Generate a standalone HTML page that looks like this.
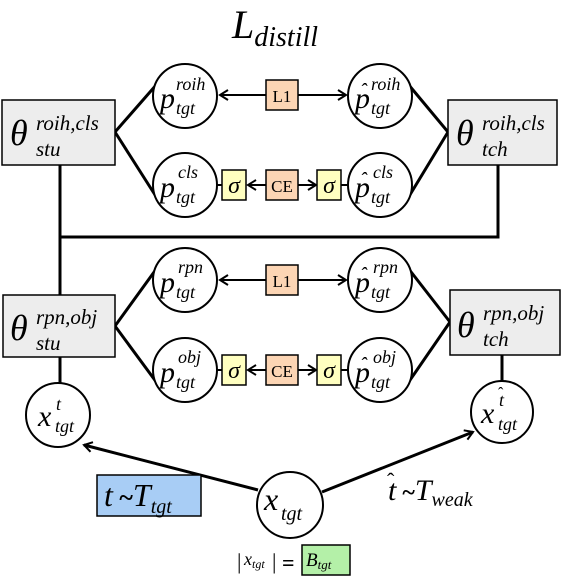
<!DOCTYPE html>
<html><head><meta charset="utf-8"><style>
html,body{margin:0;padding:0;background:#fff;}
svg{display:block;}
text{font-family:"Liberation Serif",serif;font-style:italic;fill:#000;}
.n{font-style:normal;}
</style></head><body>
<svg width="564" height="576" viewBox="0 0 564 576" xmlns="http://www.w3.org/2000/svg">
<defs>
<marker id="ah" markerWidth="12" markerHeight="12" refX="10" refY="6" orient="auto" markerUnits="userSpaceOnUse">
<path d="M2,1 L10,6 L2,11" fill="none" stroke="#000" stroke-width="2"/>
</marker>
</defs>
<g stroke="#000" stroke-width="3" fill="none">
<line x1="115" y1="132" x2="157" y2="84"/>
<line x1="115" y1="132" x2="157" y2="198"/>
<line x1="448" y1="132" x2="408" y2="84"/>
<line x1="448" y1="132" x2="408" y2="198"/>
<polyline points="60,165 60,237 498,237 498,165"/>
<line x1="60" y1="237" x2="60" y2="295"/>
<line x1="115" y1="326" x2="157" y2="268"/>
<line x1="115" y1="326" x2="157" y2="383"/>
<line x1="450" y1="322" x2="408" y2="268"/>
<line x1="450" y1="322" x2="408" y2="383"/>
<line x1="60" y1="357" x2="60" y2="384"/>
<line x1="502" y1="355" x2="502" y2="381"/>
<line x1="258" y1="490" x2="84" y2="445" marker-end="url(#ah)"/>
<line x1="322" y1="492" x2="473" y2="432" marker-end="url(#ah)"/>
</g>
<g stroke="#000" stroke-width="2" fill="none">
<line x1="266" y1="95" x2="220" y2="95" marker-end="url(#ah)"/>
<line x1="298" y1="95" x2="346" y2="95" marker-end="url(#ah)"/>
<line x1="266" y1="185" x2="248" y2="185" marker-end="url(#ah)"/>
<line x1="298" y1="185" x2="316" y2="185" marker-end="url(#ah)"/>
<line x1="216" y1="185" x2="222" y2="185"/>
<line x1="341" y1="185" x2="349" y2="185"/>
<line x1="266" y1="280" x2="220" y2="280" marker-end="url(#ah)"/>
<line x1="298" y1="280" x2="346" y2="280" marker-end="url(#ah)"/>
<line x1="266" y1="370" x2="248" y2="370" marker-end="url(#ah)"/>
<line x1="298" y1="370" x2="316" y2="370" marker-end="url(#ah)"/>
<line x1="216" y1="370" x2="222" y2="370"/>
<line x1="341" y1="370" x2="349" y2="370"/>
</g>
<g stroke="#000" stroke-width="1.5">
<rect x="2" y="100" width="113" height="65" fill="#ededed"/>
<rect x="448" y="100" width="109" height="65" fill="#ededed"/>
<rect x="3" y="295" width="112" height="62" fill="#ededed"/>
<rect x="450" y="290" width="110" height="65" fill="#ededed"/>
<rect x="266" y="80" width="32" height="30" fill="#fcd5b4"/>
<rect x="266" y="170" width="32" height="30" fill="#fcd5b4"/>
<rect x="266" y="265" width="32" height="30" fill="#fcd5b4"/>
<rect x="266" y="355" width="32" height="30" fill="#fcd5b4"/>
<rect x="222" y="170" width="24" height="30" fill="#ffffc0"/>
<rect x="317" y="170" width="24" height="30" fill="#ffffc0"/>
<rect x="222" y="355" width="24" height="30" fill="#ffffc0"/>
<rect x="317" y="355" width="24" height="30" fill="#ffffc0"/>
<rect x="97" y="475" width="104" height="41" fill="#a8cdf5"/>
<rect x="302" y="545" width="48" height="30" fill="#b4f0a8"/>
</g>
<g stroke="#000" stroke-width="2" fill="#fff">
<circle cx="185" cy="96" r="32"/>
<circle cx="380" cy="96" r="32"/>
<circle cx="185" cy="185" r="32"/>
<circle cx="380" cy="185" r="32"/>
<circle cx="185" cy="280" r="32"/>
<circle cx="380" cy="280" r="32"/>
<circle cx="185" cy="370" r="32"/>
<circle cx="380" cy="370" r="32"/>
<circle cx="58" cy="415" r="32"/>
<circle cx="502" cy="412" r="31"/>
<circle cx="290" cy="505" r="33"/>
</g>
<text x="232" y="38" font-size="40">L<tspan font-size="28" dy="8">distill</tspan></text>
<text class="n" x="282" y="102" font-size="17" text-anchor="middle">L1</text>
<text class="n" x="282" y="192" font-size="17" text-anchor="middle">CE</text>
<text class="n" x="282" y="287" font-size="17" text-anchor="middle">L1</text>
<text class="n" x="282" y="377" font-size="17" text-anchor="middle">CE</text>
<text x="234" y="193" font-size="24" text-anchor="middle">σ</text>
<text x="329" y="193" font-size="24" text-anchor="middle">σ</text>
<text x="234" y="378" font-size="24" text-anchor="middle">σ</text>
<text x="329" y="378" font-size="24" text-anchor="middle">σ</text>

<text x="10" y="145" font-size="36">θ</text>
<text x="36" y="130" font-size="21">roih,cls</text>
<text x="36" y="156" font-size="21">stu</text>
<text x="456" y="145" font-size="36">θ</text>
<text x="482" y="130" font-size="21">roih,cls</text>
<text x="482" y="156" font-size="21">tch</text>
<text x="10" y="340" font-size="36">θ</text>
<text x="36" y="324" font-size="21">rpn,obj</text>
<text x="36" y="350" font-size="21">stu</text>
<text x="457" y="337" font-size="36">θ</text>
<text x="483" y="320" font-size="21">rpn,obj</text>
<text x="483" y="346" font-size="21">tch</text>

<g font-size="30">
<text x="160" y="108">p</text><text x="355" y="108">p</text>
<text x="160" y="197">p</text><text x="355" y="197">p</text>
<text x="160" y="292">p</text><text x="355" y="292">p</text>
<text x="160" y="382">p</text><text x="355" y="382">p</text>
</g>
<g font-size="20" class="n">
<text x="360" y="97">ˆ</text>
<text x="360" y="186">ˆ</text>
<text x="360" y="281">ˆ</text>
<text x="360" y="371">ˆ</text>
</g>
<g font-size="18">
<text x="176" y="90">roih</text><text x="176" y="114">tgt</text>
<text x="371" y="90">roih</text><text x="371" y="114">tgt</text>
<text x="178" y="178">cls</text><text x="176" y="203">tgt</text>
<text x="373" y="178">cls</text><text x="371" y="203">tgt</text>
<text x="178" y="273">rpn</text><text x="176" y="298">tgt</text>
<text x="373" y="273">rpn</text><text x="371" y="298">tgt</text>
<text x="178" y="363">obj</text><text x="176" y="388">tgt</text>
<text x="373" y="363">obj</text><text x="371" y="388">tgt</text>
</g>
<text x="38" y="426" font-size="30">x</text>
<text x="56" y="410" font-size="18">t</text>
<text x="55" y="432" font-size="18">tgt</text>
<text x="481" y="423" font-size="30">x</text>
<text x="499" y="406" font-size="18">t</text>
<text class="n" x="498" y="398" font-size="16">ˆ</text>
<text x="498" y="430" font-size="18">tgt</text>
<text x="264" y="510" font-size="32">x</text>
<text x="281" y="520" font-size="20">tgt</text>
<text x="104" y="506" font-size="32">t<tspan class="n" font-size="26" font-weight="bold"> ~</tspan>T<tspan font-size="20" dy="7">tgt</tspan></text>
<text x="388" y="500" font-size="30">t<tspan class="n" font-size="24" font-weight="bold"> ~</tspan>T<tspan font-size="20" dy="6">weak</tspan></text>
<text class="n" x="387" y="488" font-size="22">ˆ</text>
<text class="n" x="237" y="569" font-size="22">|</text>
<text x="244" y="565" font-size="18">x<tspan font-size="12" dy="3">tgt</tspan></text>
<text class="n" x="272" y="569" font-size="22">|</text>
<text class="n" x="282" y="570" font-size="22" font-weight="bold">=</text>
<text x="306" y="566" font-size="19">B<tspan font-size="13" dy="3">tgt</tspan></text>
</svg>
</body></html>
